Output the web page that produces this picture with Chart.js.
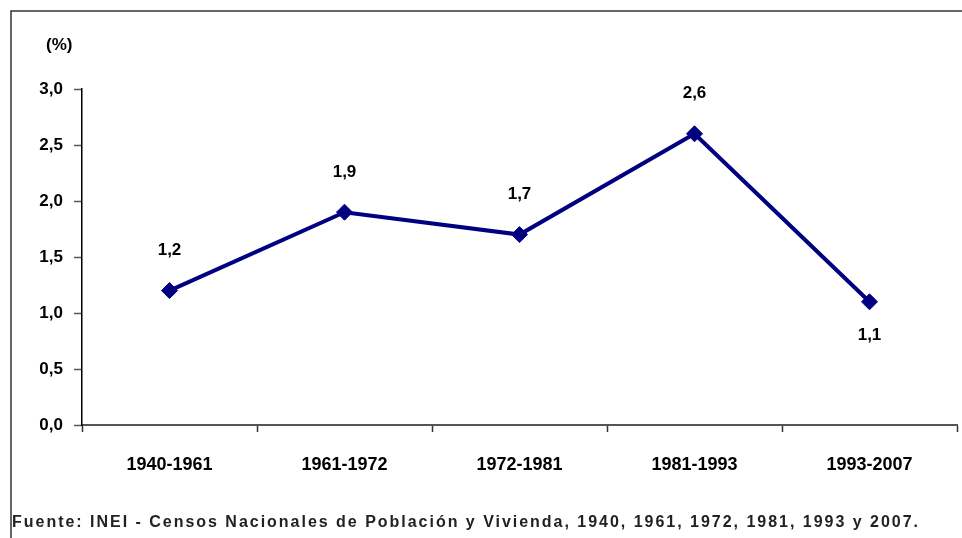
<!DOCTYPE html>
<html>
<head>
<meta charset="utf-8">
<script src="https://cdn.jsdelivr.net/npm/chart.js@4"></script>
<style>
  html, body { margin: 0; padding: 0; background: #fff; overflow: hidden; }
  #wrap { width: 962px; height: 538px; }
  canvas { display: block; }
</style>
</head>
<body>
<div id="wrap"><canvas id="growthChart"></canvas></div>
<script>
const periodLabels = ['1940-1961', '1961-1972', '1972-1981', '1981-1993', '1993-2007'];
const growthRates = [1.2, 1.9, 1.7, 2.6, 1.1];
const labelBelow = [false, false, false, false, true];
const yTicks = [0, 0.5, 1, 1.5, 2, 2.5, 3];
const unitLabel = '(%)';
const sourceNote = 'Fuente: INEI - Censos Nacionales de Población y Vivienda, 1940, 1961, 1972, 1981, 1993 y 2007.';

const FONT = '"Liberation Sans", Arial, sans-serif';
const fmt = v => v.toFixed(1).replace('.', ',');

const decorations = {
    id: 'decorations',
    afterDatasetsDraw(chart) {
        const { ctx } = chart;
        const meta = chart.getDatasetMeta(0);
        ctx.save();
        ctx.fillStyle = '#000';
        ctx.font = 'bold 17px ' + FONT;
        ctx.textAlign = 'center';
        ctx.textBaseline = 'middle';
        meta.data.forEach((pt, i) => {
            const dy = labelBelow[i] ? 34 : -40;
            ctx.fillText(fmt(growthRates[i]), pt.x, pt.y + dy);
        });
        ctx.restore();
    },
    afterDraw(chart) {
        const { ctx } = chart;
        ctx.save();
        // frame
        ctx.strokeStyle = '#333';
        ctx.lineWidth = 1.5;
        ctx.beginPath();
        ctx.moveTo(11, 538);
        ctx.lineTo(11, 11);
        ctx.lineTo(962, 11);
        ctx.stroke();

        ctx.fillStyle = '#000';
        ctx.font = 'bold 17px ' + FONT;
        ctx.textAlign = 'left';
        ctx.textBaseline = 'middle';
        ctx.fillText(unitLabel, 46, 45);

        ctx.font = 'bold 16px ' + FONT;
        ctx.letterSpacing = '0px';
        const w = ctx.measureText(sourceNote).width;
        const sp = (906 - w) / (sourceNote.length - 1);
        ctx.letterSpacing = sp + 'px';
        ctx.fillStyle = '#222';
        ctx.fillText(sourceNote, 12, 523);
        ctx.restore();
    }
};

new Chart(document.getElementById('growthChart'), {
    type: 'line',
    data: {
        labels: periodLabels,
        datasets: [
            {
                data: growthRates,
                borderColor: '#000080',
                backgroundColor: '#000080',
                borderWidth: 4,
                tension: 0,
                pointStyle: 'rectRot',
                pointRadius: 8,
                pointHoverRadius: 8,
                pointBackgroundColor: '#000080',
                pointBorderColor: '#000080',
                pointBorderWidth: 1,
            },
        ],
    },
    options: {
        responsive: true,
        maintainAspectRatio: false,
        animation: false,
        layout: {
            autoPadding: false,
            padding: { left: 10, right: 5, top: 89, bottom: 53 },
        },
        plugins: {
            legend: { display: false },
            tooltip: { enabled: false },
        },
        scales: {
            x: {
                offset: true,
                grid: {
                    offset: true,
                    drawOnChartArea: false,
                    drawTicks: true,
                    tickLength: 7,
                    tickColor: '#333',
                    tickWidth: 1.5,
                },
                border: { color: '#555', width: 2 },
                ticks: {
                    color: '#000',
                    padding: 22,
                    font: { family: FONT, size: 18, weight: 'bold' },
                    maxRotation: 0,
                },
                afterFit(scale) {
                    scale.height = 60;
                    scale.paddingLeft = 0;
                    scale.paddingRight = 0;
                },
            },
            y: {
                min: 0,
                max: 3,
                afterBuildTicks(scale) {
                    scale.ticks = yTicks.map(v => ({ value: v }));
                },
                grid: {
                    drawOnChartArea: false,
                    drawTicks: true,
                    tickLength: 8,
                    tickColor: '#555',
                    tickWidth: 1.5,
                },
                border: { color: '#000', width: 1.5 },
                ticks: {
                    color: '#000',
                    padding: 11,
                    font: { family: FONT, size: 17, weight: 'bold' },
                    callback: v => fmt(v),
                },
                afterFit(scale) {
                    scale.width = 72;
                    scale.paddingTop = 0;
                    scale.paddingBottom = 0;
                },
            },
        },
    },
    plugins: [decorations],
});
</script>
</body>
</html>
